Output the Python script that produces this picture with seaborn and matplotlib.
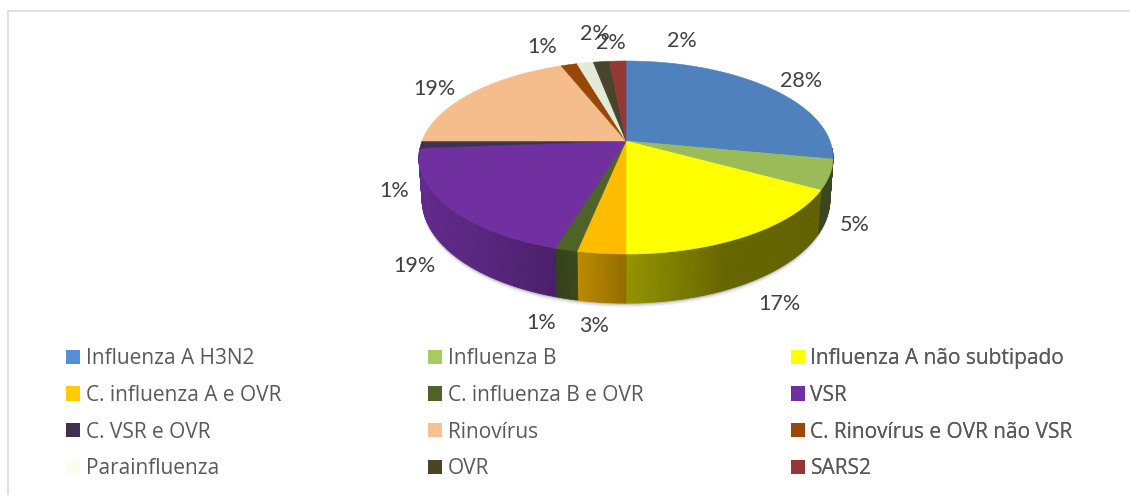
import numpy as np
import matplotlib
matplotlib.use("Agg")
import matplotlib.pyplot as plt
from matplotlib.patches import Patch
from matplotlib.colors import to_rgb
import seaborn as sns

categories = ["Influenza A H3N2", "Influenza B", "Influenza A não subtipado",
              "C. influenza A e OVR", "C. influenza B e OVR", "VSR",
              "C. VSR e OVR", "Rinovírus", "C. Rinovírus e OVR não VSR",
              "Parainfluenza", "OVR", "SARS2"]
values = [28.0, 5.0, 17.0, 3.2, 1.49, 19.11, 1.2, 19.0, 1.49, 1.51, 1.5, 1.5]
face_colors = ["#4F81BD", "#9BBB59", "#FFFF00", "#FFBC00", "#4F6228", "#7030A0",
               "#403152", "#F5BD8C", "#974806", "#E3EBD8", "#4A452A", "#953735"]
legend_colors = ["#558ED5", "#A6CB60", "#FFFF00", "#FFCC00", "#4F6228", "#7030A0",
                 "#403152", "#FAC090", "#984807", "#F9FDEB", "#4A452A", "#953735"]
label_xy = [(801, 81), (855, 225), (779, 304), (594, 326), (541, 323), (414, 266),
            (394, 191), (434, 89), (542, 47), (595, 34), (611, 43), (682, 41)]

sns.set_theme(style="white")
plt.rcParams["font.family"] = ["Open Sans", "DejaVu Sans"]

fig = plt.figure(figsize=(11.3, 4.95), dpi=100)
ax = fig.add_axes([0, 0, 1, 1])
ax.set_xlim(0, 1130)
ax.set_ylim(495, 0)
ax.axis("off")

# chart frame (only the top and left borders survive the crop)
ax.plot([8, 8, 1130], [495, 11, 11], color="#DCDCDC", lw=1.2, solid_joinstyle="miter")

# projection of the pie plane
CX, CY, K, FY, GX = 626, 141, 0.171, 93.7, 204.0


def project(theta):
    X, Y = np.sin(theta), np.cos(theta)
    w = 1 + K * Y
    return CX + GX * X / w, CY - FY * Y / w


def project_base(theta):
    X, Y = np.sin(theta), np.cos(theta)
    w = 1 + K * Y
    return CX + 0.985 * GX * X / w, CY - FY * Y / w + 40 - 9 * Y


def wall_shade(px):
    return np.interp(px - CX, [-208, -150, -70, -50, 0, 100, 208],
                     [0.88, 0.80, 0.66, 0.74, 0.58, 0.40, 0.38])


edges = np.cumsum([0] + values) / sum(values) * 2 * np.pi

# soft shadow under the pie
t = np.linspace(np.pi * 0.56, np.pi * 1.47, 200)
for grow, alpha in [(4.5, 0.05), (3.2, 0.08), (2.0, 0.12), (1, 0.18)]:
    sx, sy = project_base(t)
    ax.fill(np.r_[CX, sx], np.r_[CY, sy + grow], color="#303030", alpha=alpha, lw=0, zorder=1)

# side wall, shaded along the rim
for i, col in enumerate(face_colors):
    base = np.array(to_rgb(col))
    n = max(3, int((edges[i + 1] - edges[i]) * 90))
    tt = np.linspace(edges[i], edges[i + 1], n + 1)
    for a, b in zip(tt[:-1], tt[1:]):
        if np.cos((a + b) / 2) > -0.08:
            continue
        xa, ya = project(np.array([a, b]))
        xb, yb = project_base(np.array([b, a]))
        c = tuple(base * wall_shade(xa.mean()))
        ax.fill(np.r_[xa, xb], np.r_[ya, yb], color=c, lw=0.6, zorder=2)

# top face
for i, col in enumerate(face_colors):
    tt = np.linspace(edges[i], edges[i + 1], max(3, int((edges[i + 1] - edges[i]) * 90)))
    x, y = project(tt)
    ax.fill(np.r_[CX, x], np.r_[CY, y], color=col, lw=0.4, zorder=3)

# percentage labels
for v, (lx, ly) in zip(values, label_xy):
    ax.text(lx, ly, f"{int(v + 0.5)}%", ha="center", va="center", fontsize=15.5,
            family=["Lato", "DejaVu Sans"], color="#404040", zorder=4)

# legend: three columns read row by row
FS = 15.0
px = 100 / 72
palette = sns.color_palette(legend_colors)
for col_i, x0 in enumerate([66, 428, 791]):
    handles = [Patch(facecolor=palette[i], edgecolor="none", label=categories[i])
               for i in range(col_i, 12, 3)]
    leg = ax.legend(handles=handles, loc="upper left", bbox_to_anchor=(x0, 348),
                    bbox_transform=ax.transData, frameon=False, fontsize=FS,
                    borderpad=0, borderaxespad=0, handlelength=14 / (FS * px),
                    handleheight=14 / (FS * px), handletextpad=5.5 / (FS * px),
                    labelspacing=0.76, labelcolor="#595959")
    ax.add_artist(leg)

sns.despine(ax=ax, left=True, bottom=True)
fig.savefig("out.png", dpi=100, facecolor="white")
